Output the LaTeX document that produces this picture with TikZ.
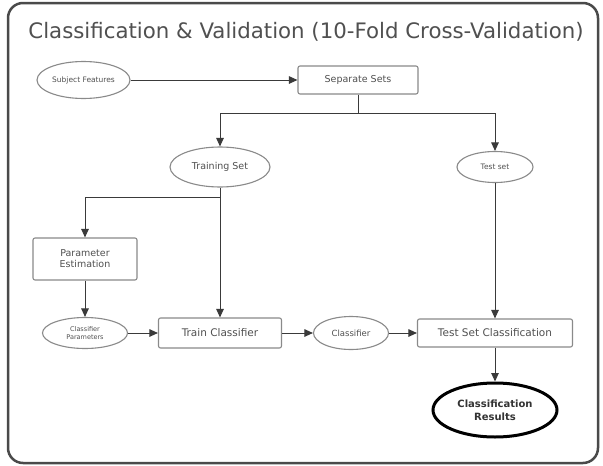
\documentclass[tikz,border=0pt]{standalone}
\usepackage{fontspec}
\setmainfont{DejaVu Sans}
\usetikzlibrary{shapes.geometric,arrows.meta}
\definecolor{framec}{HTML}{4A4A4A}
\definecolor{titlec}{HTML}{505050}
\definecolor{borderc}{HTML}{8A8A8A}
\definecolor{textc}{HTML}{505050}
\definecolor{linec}{HTML}{3A3A3A}
\tikzset{
  ell/.style={ellipse, draw=borderc, line width=1.1pt, inner sep=0pt, text=textc, align=center},
  boxn/.style={rectangle, rounded corners=2pt, draw=borderc, line width=1.1pt, inner sep=0pt, text=textc, align=center},
  arr/.style={draw=linec, line width=1pt, -{Triangle[width=7.5pt,length=8.5pt]}},
  plain/.style={draw=linec, line width=1pt}
}
\begin{document}
\begin{tikzpicture}[x=1pt,y=-1pt]
\useasboundingbox (0,0) rectangle (603,466);
\fill[white] (0,0) rectangle (603,466);
\draw[framec, line width=2.5pt, rounded corners=15pt] (8,3) rectangle (598,463);
\node[anchor=base, text=titlec, font=\fontsize{21.3}{24}\selectfont] (title) at (306,38) {Classification \& Validation (10-Fold Cross-Validation)};

\node[ell, minimum width=93pt, minimum height=37pt, font=\fontsize{7.5}{9}\selectfont] (sf) at (83.5,80) {Subject Features};
\node[boxn, minimum width=120pt, minimum height=28pt, font=\fontsize{9.5}{11}\selectfont] (ss) at (358,80) {Separate Sets};
\node[ell, minimum width=100pt, minimum height=40pt, font=\fontsize{9.5}{11}\selectfont] (ts) at (220,167) {Training Set};
\node[ell, minimum width=76pt, minimum height=31pt, font=\fontsize{7.5}{9}\selectfont] (test) at (495,167) {Test set};
\node[boxn, minimum width=104pt, minimum height=42pt, font=\fontsize{9.5}{11}\selectfont] (pe) at (85,259) {Parameter\\Estimation};
\node[ell, minimum width=85pt, minimum height=31pt, font=\fontsize{6.5}{7.5}\selectfont] (cp) at (85,333) {Classifier\\Parameters};
\node[boxn, minimum width=123pt, minimum height=30pt, font=\fontsize{10.5}{12}\selectfont] (tc) at (220,333) {Train Classifier};
\node[ell, minimum width=75pt, minimum height=33pt, font=\fontsize{8.5}{10}\selectfont] (cl) at (351,333) {Classifier};
\node[boxn, minimum width=155pt, minimum height=28pt, font=\fontsize{10.5}{12}\selectfont] (tsc) at (495,333) {Test Set Classification};
\node[ell, draw=black, line width=3pt, minimum width=124pt, minimum height=54pt, text=black!80, font=\bfseries\fontsize{10}{13}\selectfont] (cr) at (495,410) {Classification\\Results};

\coordinate (split) at (358,113);
\coordinate (tsplit) at (220,197);

\draw[arr] (sf) -- (ss);
\draw[plain] (ss.south) -- (split);
\draw[arr] (split) -| (ts.north);
\draw[arr] (split) -| (test.north);
\draw[arr] (tsplit) -| (pe.north);
\draw[arr] (ts.south) -- (tc.north);
\draw[arr] (pe.south) -- (cp.north);
\draw[arr] (cp) -- (tc);
\draw[arr] (tc) -- (cl);
\draw[arr] (cl) -- (tsc);
\draw[arr] (test.south) -- (tsc.north);
\draw[arr] (tsc.south) -- (cr.north);
\end{tikzpicture}
\end{document}
